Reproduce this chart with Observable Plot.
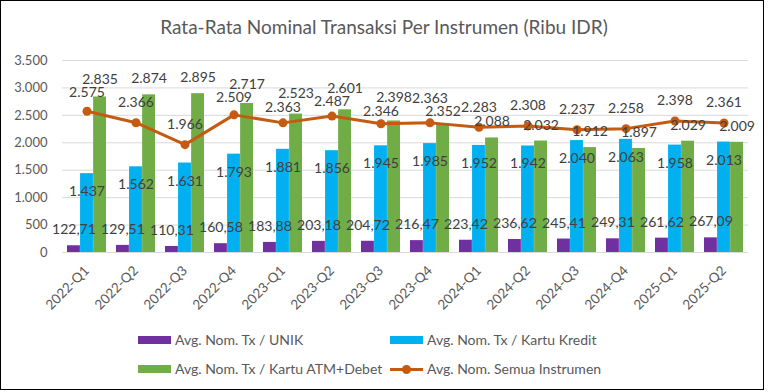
<!DOCTYPE html>
<html><head><meta charset="utf-8">
<script src="https://cdn.jsdelivr.net/npm/d3@7"></script>
<script src="https://cdn.jsdelivr.net/npm/@observablehq/plot@0.6"></script>
<style>
body{margin:0;background:#fff;font-family:Lato,"Open Sans",sans-serif;}
#wrap{position:relative;width:768px;height:392px;overflow:hidden;background:#fff;}
#frame{position:absolute;left:0;top:0;width:762px;height:388px;border:1px solid #000;z-index:3;pointer-events:none;}
#plot{position:absolute;left:0;top:0;z-index:1;}
#title{position:absolute;left:0;width:768px;top:15px;text-align:center;font-size:19px;color:#595959;z-index:2;}
.lg{position:absolute;font-size:14px;color:#595959;z-index:2;white-space:nowrap;line-height:16px;}
.sw{position:absolute;width:33px;height:8px;}
</style></head>
<body>
<div id="wrap">
  <div id="plot"></div>
  <div id="title">Rata-Rata Nominal Transaksi Per Instrumen (Ribu IDR)</div>
  <div id="legend"></div>
  <div id="frame"></div>
</div>
<script>
const quarters = ["2022-Q1","2022-Q2","2022-Q3","2022-Q4","2023-Q1","2023-Q2","2023-Q3","2023-Q4","2024-Q1","2024-Q2","2024-Q3","2024-Q4","2025-Q1","2025-Q2"];
const unik = [122.71,129.51,110.31,160.58,183.88,203.18,204.72,216.47,223.42,236.62,245.41,249.31,261.62,267.09];
const kredit = [1437,1562,1631,1793,1881,1856,1945,1985,1952,1942,2040,2063,1958,2013];
const atmDebet = [2835,2874,2895,2717,2523,2601,2398,2352,2088,2032,1912,1897,2029,2009];
const semua = [2575,2366,1966,2509,2363,2487,2346,2363,2283,2308,2237,2258,2398,2361];
const yTicks = [0,500,1000,1500,2000,2500,3000,3500];
const seriesNames = ["Avg. Nom. Tx / UNIK","Avg. Nom. Tx / Kartu Kredit","Avg. Nom. Tx / Kartu ATM+Debet","Avg. Nom. Semua Instrumen"];
const colors = ["#7030A0","#00B0F0","#70AD47","#C55A11"];

const W = 768, H = 330, ML = 62, MR = 20, MT = 60, MB = 78;
const step = (W-ML-MR)/quarters.length, bw = step*0.8, w = bw/3;
const k = 3500/(H-MT-MB); // data units per pixel, used to offset labels

// label anchors (in data units) with a simple collision push between line & green labels
const G = 13.5*k;
const data = quarters.map((q,i)=>{
  let yl = semua[i] + 20*k, yg = atmDebet[i] + 16*k;
  if (Math.abs(yl-yg) < G) {
    const mid = (yl+yg)/2;
    if (atmDebet[i] >= semua[i]) { yg = mid + G/2; yl = mid - G/2; }
    else { yg = mid - G/2; yl = mid + G/2; }
  }
  return {q, unik:unik[i], kredit:kredit[i], atm:atmDebet[i], all:semua[i], yl, yg};
});
const loc = d3.formatLocale({decimal:",", thousands:".", grouping:[3], currency:["",""]});
const f0 = loc.format(",.0f"), f2 = loc.format(",.2f");
const lab = {fontSize:14, fill:"#404040"};

const chart = Plot.plot({
  width: W, height: H, marginLeft: ML, marginRight: MR, marginTop: MT, marginBottom: MB,
  style: {background:"transparent", fontFamily:"Lato, 'Open Sans', sans-serif", color:"#595959"},
  x: {domain: quarters, type:"band", paddingInner:0.2, paddingOuter:0.1, label:null},
  y: {domain:[0,3500], label:null},
  marks: [
    Plot.gridY(yTicks, {stroke:"#D9D9D9", strokeOpacity:1}),
    Plot.barY(data, {x:"q", y:"unik", fill:colors[0], insetLeft:0, insetRight:2*w}),
    Plot.barY(data, {x:"q", y:"kredit", fill:colors[1], insetLeft:w, insetRight:w}),
    Plot.barY(data, {x:"q", y:"atm", fill:colors[2], insetLeft:2*w, insetRight:0}),
    Plot.line(data, {x:"q", y:"all", stroke:colors[3], strokeWidth:3}),
    Plot.dot(data, {x:"q", y:"all", fill:colors[3], r:4.5}),
    Plot.axisY(yTicks, {tickSize:0, tickPadding:15, tickFormat:f0, fontSize:13}),
    Plot.axisX({tickSize:0, tickRotate:-45, tickPadding:16, fontSize:13.5}),
    Plot.text(data, {x:"q", y:"unik", text:d=>f2(d.unik), dx:-w, dy:-16, ...lab}),
    Plot.text(data, {x:"q", y:"kredit", text:d=>f0(d.kredit), dy:18, ...lab}),
    Plot.text(data, {x:"q", y:"yg", text:d=>f0(d.atm), dx:w, ...lab}),
    Plot.text(data, {x:"q", y:"yl", text:d=>f0(d.all), ...lab})
  ]
});
document.getElementById("plot").appendChild(chart);

const lg = document.getElementById("legend");
const pos = [[138,340],[390,340],[138,369],[390,369]];
seriesNames.forEach((n,i)=>{
  const [x,y] = pos[i];
  const t = document.createElement("div");
  t.className="lg"; t.style.left=(x+37)+"px"; t.style.top=(y-8)+"px"; t.textContent=n;
  lg.appendChild(t);
  if(i<3){
    const s=document.createElement("div"); s.className="sw";
    s.style.left=x+"px"; s.style.top=(y-4)+"px"; s.style.background=colors[i]; s.style.zIndex=2;
    lg.appendChild(s);
  } else {
    const s=document.createElement("div"); s.className="sw";
    s.style.left=x+"px"; s.style.top=(y-1.5)+"px"; s.style.height="3px"; s.style.background=colors[i]; s.style.zIndex=2;
    lg.appendChild(s);
    const c=document.createElement("div"); c.className="sw";
    c.style.left=(x+12)+"px"; c.style.top=(y-4.5)+"px"; c.style.width="9px"; c.style.height="9px"; c.style.borderRadius="50%"; c.style.background=colors[i]; c.style.zIndex=2;
    lg.appendChild(c);
  }
});
</script>
</body></html>
